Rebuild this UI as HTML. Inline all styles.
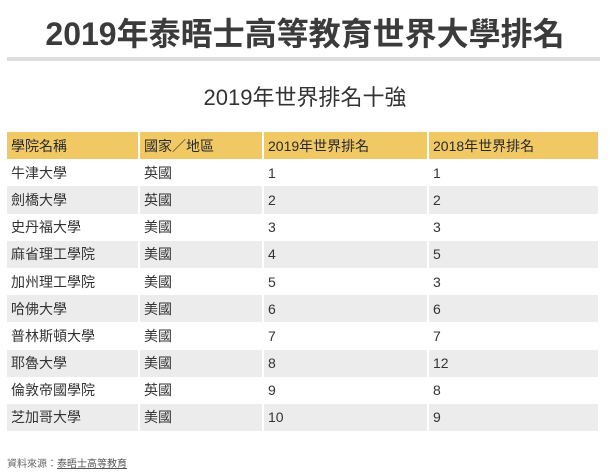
<!DOCTYPE html>
<html><head><meta charset="utf-8"><style>
body{margin:0;width:610px;height:474px;background:#fff;font-family:"Liberation Sans","Noto Sans CJK TC",sans-serif;color:#333;position:relative;overflow:hidden}
.t{position:absolute;top:11px;left:0;width:610px;text-align:center;font-size:32px;font-weight:bold;color:#3b3b3b;line-height:46px}
.hr{position:absolute;left:7px;top:57px;width:593px;height:4px;background:#ddd}
.st{position:absolute;top:83px;left:0;width:610px;text-align:center;font-size:22px;color:#333;line-height:30px}
table{position:absolute;top:132px;left:7px;border-collapse:separate;border-spacing:2px 0;margin-left:-2px}
td{height:27.2px;padding:0 0 0 4px;font-size:14px;box-sizing:border-box;vertical-align:middle}
tr.h td{background:#f0c965;color:#2a2a2a}
tr.g td{background:#ececec}
.c1{width:131px}.c2{width:122px}.c3{width:163px}.c4{width:169px}
.f{position:absolute;top:455px;left:7px;font-size:10px;color:#666}
.f u{color:#555}
</style></head><body>
<div class="t">2019年泰晤士高等教育世界大學排名</div>
<div class="hr"></div>
<div class="st">2019年世界排名十強</div>
<table>
<tr class="h"><td class="c1">學院名稱</td><td class="c2">國家／地區</td><td class="c3">2019年世界排名</td><td class="c4">2018年世界排名</td></tr>
<tr><td>牛津大學</td><td>英國</td><td>1</td><td>1</td></tr>
<tr class="g"><td>劍橋大學</td><td>英國</td><td>2</td><td>2</td></tr>
<tr><td>史丹福大學</td><td>美國</td><td>3</td><td>3</td></tr>
<tr class="g"><td>麻省理工學院</td><td>美國</td><td>4</td><td>5</td></tr>
<tr><td>加州理工學院</td><td>美國</td><td>5</td><td>3</td></tr>
<tr class="g"><td>哈佛大學</td><td>美國</td><td>6</td><td>6</td></tr>
<tr><td>普林斯頓大學</td><td>美國</td><td>7</td><td>7</td></tr>
<tr class="g"><td>耶魯大學</td><td>美國</td><td>8</td><td>12</td></tr>
<tr><td>倫敦帝國學院</td><td>英國</td><td>9</td><td>8</td></tr>
<tr class="g"><td>芝加哥大學</td><td>美國</td><td>10</td><td>9</td></tr>
</table>
<div class="f">資料來源：<u>泰晤士高等教育</u></div>
</body></html>
